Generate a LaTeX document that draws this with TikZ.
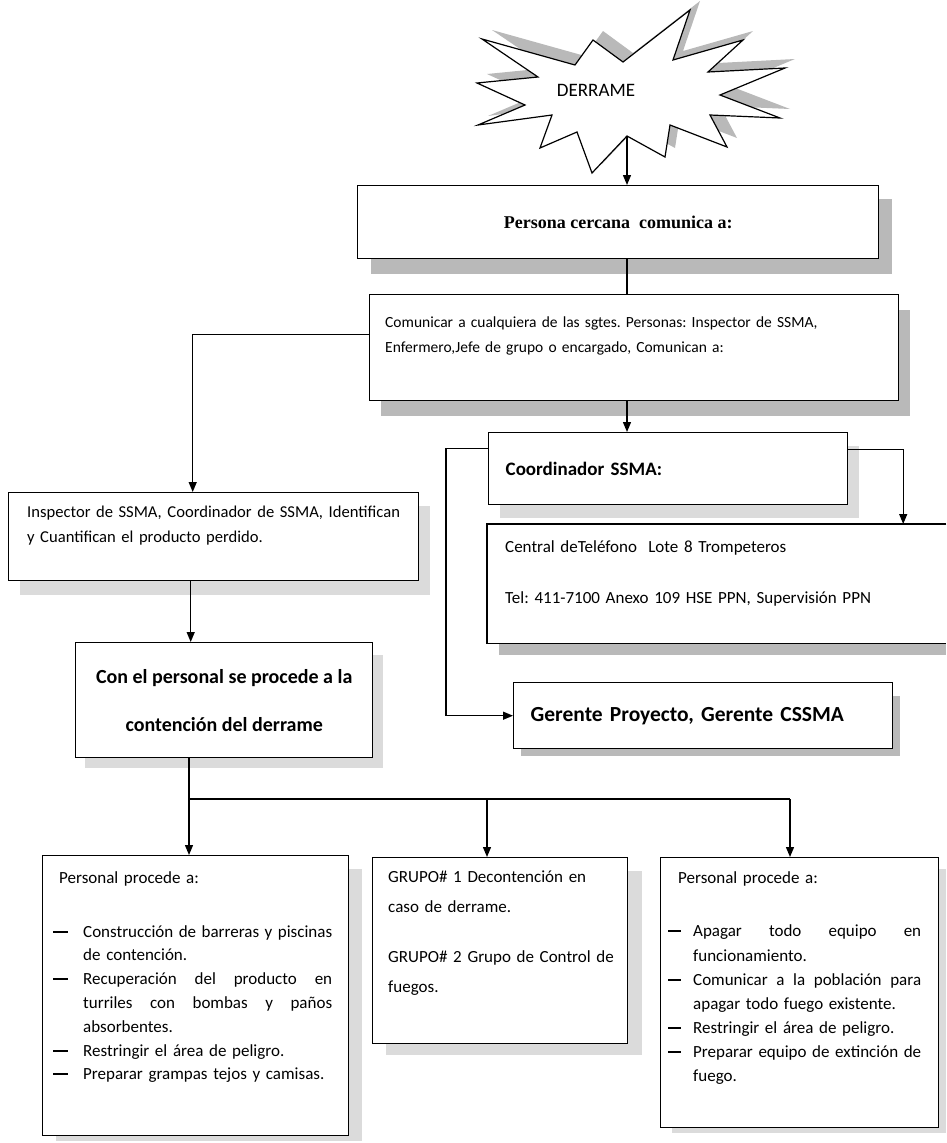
\documentclass[tikz,border=0pt]{standalone}
\usepackage{fontspec}
\setmainfont{Carlito}
\newfontfamily\serifb{Liberation Serif}
\usetikzlibrary{arrows.meta}
\frenchspacing
\newcommand{\dsha}{\makebox[30pt][l]{\rule[4.5pt]{15pt}{2pt}}}
\newcommand{\inda}{\hspace*{30pt}}
\newcommand{\dshb}{\makebox[25pt][l]{\rule[4.5pt]{13pt}{2pt}}}
\newcommand{\indb}{\hspace*{25pt}}
\newcommand{\jla}[1]{\makebox[249pt][l]{#1}}
\newcommand{\jlb}[1]{\makebox[228pt][l]{#1}}
\begin{document}
\begin{tikzpicture}[x=1pt,y=-1pt,
  box/.style={draw=black, line width=1.4pt, fill=white, inner sep=0pt, anchor=north west},
  dshd/.style={fill=gray!55},
  lshd/.style={fill=gray!28},
  txt/.style={inner sep=0pt, anchor=base west, align=left},
  con/.style={line width=1.3pt},
  arr/.style={con, -{Triangle[length=10pt,width=8pt]}},
]
\useasboundingbox (0,0) rectangle (946,1143);

% ---------- starburst ----------
\fill[gray!55, shift={(10,-9)}] (482,39) -- (575,65) -- (593,40) -- (623,62) -- (690,10) -- (673,60) -- (743,40) -- (708,72) -- (785,68) -- (720,95) -- (780,118) -- (710,115) -- (727,147) -- (670,125) -- (665,157) -- (627,136) -- (592,173) -- (577,132) -- (540,148) -- (552,115) -- (478,125) -- (525,105) -- (477,83) -- (538,77) -- cycle;
\draw[line width=1.2pt, fill=white, line join=miter] (482,39) -- (575,65) -- (593,40) -- (623,62) -- (690,10) -- (673,60) -- (743,40) -- (708,72) -- (785,68) -- (720,95) -- (780,118) -- (710,115) -- (727,147) -- (670,125) -- (665,157) -- (627,136) -- (592,173) -- (577,132) -- (540,148) -- (552,115) -- (478,125) -- (525,105) -- (477,83) -- (538,77) -- cycle;
\node[font=\fontsize{19}{20}\selectfont, inner sep=0pt] (derrame) at (596,90) {DERRAME};
\coordinate (burstbot) at (627,136);

% ---------- shadows ----------
\fill[dshd] (371,199) rectangle (892,274);
\fill[dshd] (381,310) rectangle (910,416);
\fill[lshd] (20,506) rectangle (430,595);
\fill[lshd] (85,655) rectangle (383,768);
\fill[lshd] (500,446) rectangle (859,518);
\fill[dshd] (499,540) rectangle (946,655);
\fill[dshd] (521,696) rectangle (900,756);
\fill[lshd] (56,869) rectangle (362,1141);
\fill[lshd] (386,871) rectangle (642,1055);
\fill[lshd] (672,869) rectangle (946,1133);

% ---------- boxes ----------
\node[box, minimum width=521pt, minimum height=73pt,
      font=\serifb\bfseries\fontsize{18}{20}\selectfont] (persona) at (357,185) {Persona cercana\ \ comunica a:};

\node[box, minimum width=529pt, minimum height=106pt] (comunicar) at (369,294) {};
\node[txt, text width=500pt, font=\fontsize{15.5}{25}\selectfont] (comtxt) at (385,327)
  {Comunicar a cualquiera de las sgtes. Personas: Inspector de SSMA,\\
   Enfermero,Jefe de grupo o encargado, Comunican a:};

\node[box, minimum width=410pt, minimum height=88pt] (inspector) at (8,492) {};
\node[txt, text width=390pt, font=\fontsize{16.6}{25}\selectfont] (insptxt) at (27,517)
  {Inspector de SSMA, Coordinador de SSMA, Identifican\\
   y Cuantifican el producto perdido.};

\node[box, minimum width=297pt, minimum height=115pt, align=center,
      font=\bfseries\fontsize{20}{48}\selectfont] (conel) at (75,642)
  {Con el personal se procede a la\\contención del derrame};

\node[box, minimum width=359pt, minimum height=72pt, inner xsep=17pt,
      text width=325pt, align=left,
      font=\bfseries\fontsize{19}{22}\selectfont] (coord) at (488,432) {Coordinador SSMA:};

\node[inner sep=0pt, anchor=north west, fill=white, minimum width=459pt, minimum height=119pt] (central) at (487,524) {};
\draw[line width=1.4pt] (central.north east) -- (central.north west) -- (central.south west) -- (central.south east);
\node[txt, text width=420pt, font=\fontsize{17}{22}\selectfont] (centtxt) at (505,552)
  {Central deTeléfono\ \ Lote 8 Trompeteros\\[29pt]
   Tel: 411-7100 Anexo 109 HSE PPN, Supervisión PPN};

\node[box, minimum width=379pt, minimum height=66pt, inner xsep=17pt,
      text width=345pt, align=left,
      font=\bfseries\fontsize{21.5}{24}\selectfont] (gerente) at (513,682) {Gerente Proyecto, Gerente CSSMA};

% bottom row
\node[box, minimum width=306pt, minimum height=280pt] (b1) at (42,855) {};
\node[txt, text width=290pt, font=\fontsize{17}{23.8}\selectfont] (b1txt) at (53,883)
  {\hspace*{6pt}Personal procede a:\\[30.2pt]
   \dsha\jla{Construcción\hfill de\hfill barreras\hfill y\hfill piscinas}\\
   \inda de contención.\\
   \dsha\jla{Recuperación\hfill del\hfill producto\hfill en}\\
   \inda\jla{turriles\hfill con\hfill bombas\hfill y\hfill paños}\\
   \inda absorbentes.\\
   \dsha Restringir el área de peligro.\\
   \dsha Preparar grampas tejos y camisas.};

\node[box, minimum width=255pt, minimum height=186pt] (b2) at (372,857) {};
\node[txt, text width=240pt, font=\fontsize{17}{30}\selectfont] (b2txt) at (388,882)
  {GRUPO\# 1 Decontención en\\
   caso de derrame.\\[20pt]
   GRUPO\# 2 Grupo de Control de\\
   fuegos.};

\node[box, minimum width=278pt, minimum height=270pt] (b3) at (660,857) {};
\node[txt, text width=262pt, font=\fontsize{17}{24.1}\selectfont] (b3txt) at (668,883)
  {\hspace*{10pt}Personal procede a:\\[29.8pt]
   \dshb\jlb{Apagar\hfill todo\hfill equipo\hfill en}\\
   \indb funcionamiento.\\
   \dshb\jlb{Comunicar\hfill a\hfill la\hfill población\hfill para}\\
   \indb apagar todo fuego existente.\\
   \dshb Restringir el área de peligro.\\
   \dshb\jlb{Preparar\hfill equipo\hfill de\hfill extinción\hfill de}\\
   \indb fuego.};

% ---------- connectors ----------
\draw[arr] (burstbot) -- (burstbot |- persona.north);
\draw[con] (persona.south -| burstbot) -- (comunicar.north -| burstbot);
\draw[arr] ([yshift=13pt]comunicar.west) -| ([xshift=-21pt]inspector.north);
\draw[arr] (comunicar.south -| burstbot) -- (coord.north -| burstbot);
\draw[arr] ([yshift=19pt]coord.east) -| ([xshift=186.5pt]central.north);
\draw[arr] ([yshift=20pt]coord.west) -- ++(-42,0) |- (gerente.west);
\draw[arr] ([xshift=-23pt]inspector.south) -- ([xshift=-23pt]inspector.south |- conel.north);
\coordinate (split) at (189,799);
\coordinate (splitM) at (487,799);
\coordinate (splitR) at (790,799);
\draw[con] (conel.south -| split) -- (split) -- (splitR);
\draw[arr] (split) -- (split |- b1.north);
\draw[arr] (splitM) -- (splitM |- b2.north);
\draw[arr] (splitR) -- (splitR |- b3.north);
\end{tikzpicture}
\end{document}
